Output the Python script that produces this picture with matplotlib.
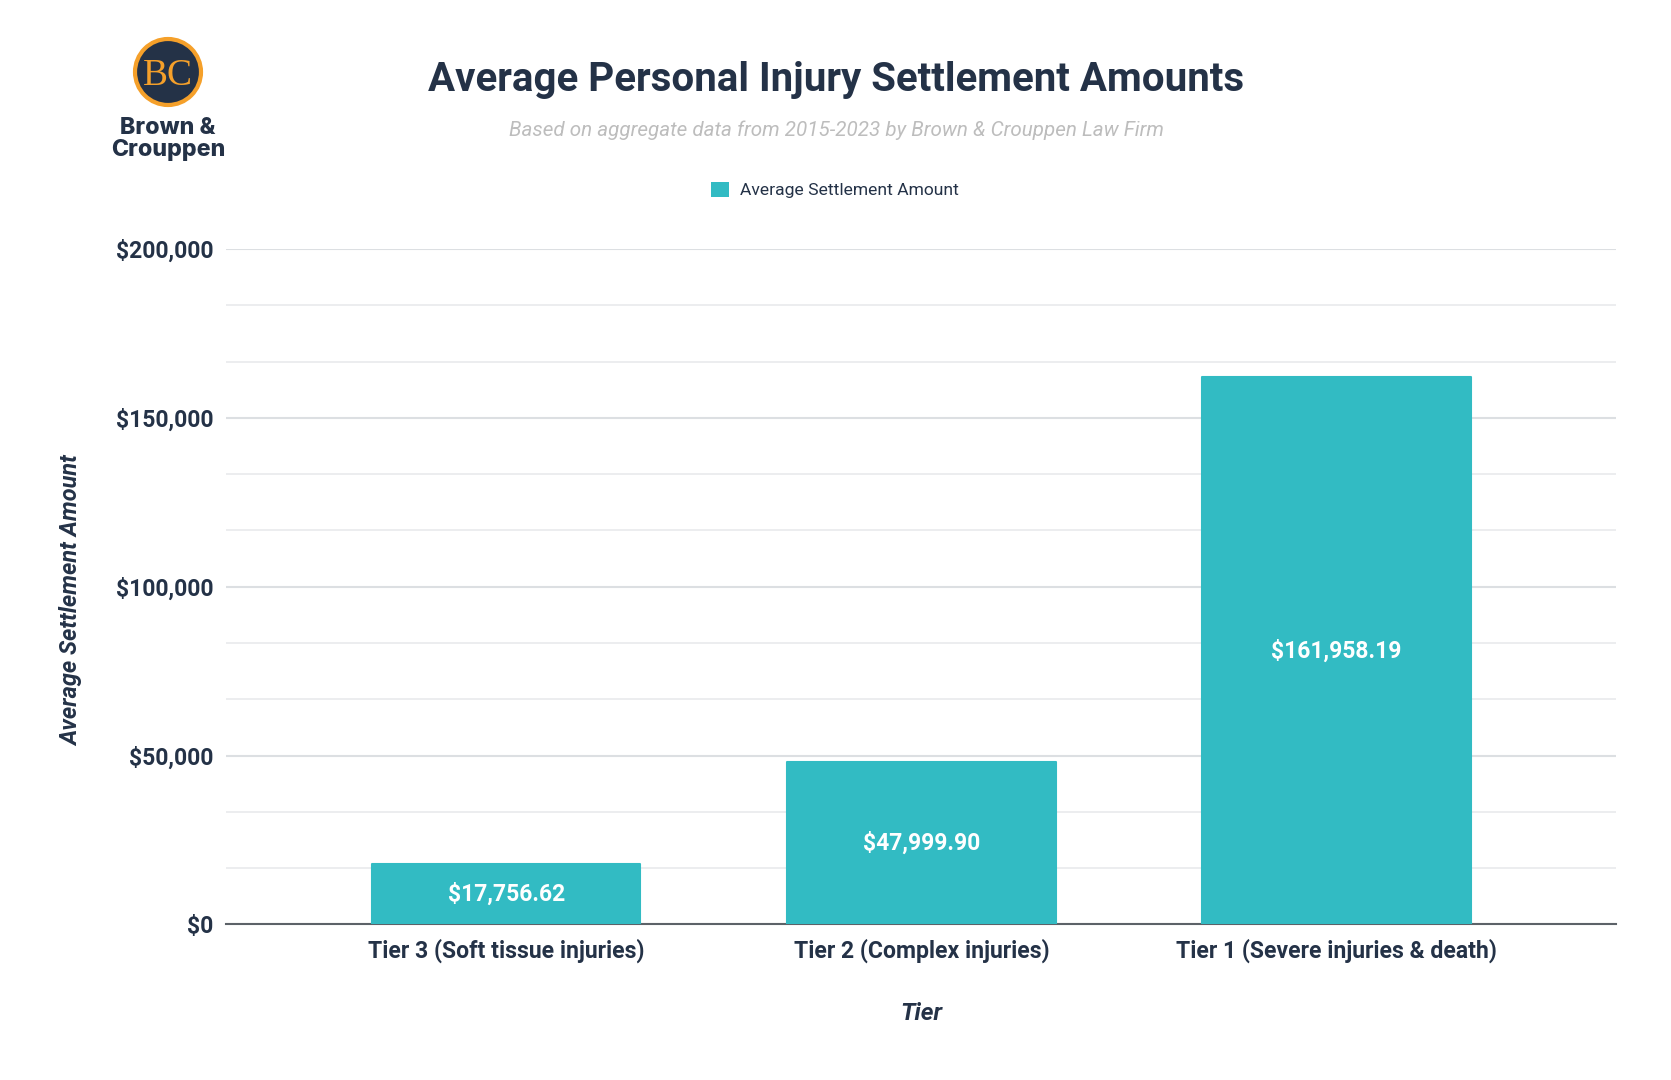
import matplotlib
matplotlib.use('Agg')
import matplotlib.pyplot as plt
from matplotlib.patches import Circle

plt.rcParams['font.family'] = ['Roboto', 'DejaVu Sans']

tiers = ['Tier 3 (Soft tissue injuries)', 'Tier 2 (Complex injuries)', 'Tier 1 (Severe injuries & death)']
amounts = [17756.62, 47999.90, 161958.19]
amount_labels = ['$17,756.62', '$47,999.90', '$161,958.19']
major_ticks = [0, 50000, 100000, 150000, 200000]
major_labels = ['$0', '$50,000', '$100,000', '$150,000', '$200,000']
minor_ticks = [16667, 33333, 66667, 83333, 116667, 133333, 166667, 183333]

navy = '#243247'
teal = '#32bbc3'
orange = '#f5a02a'
W, H = 1671, 1080

fig = plt.figure(figsize=(W / 100, H / 100), dpi=100, facecolor='white')
ax = fig.add_axes([226 / W, 1 - 924.4 / H, (1616.4 - 226) / W, (924.4 - 249) / H])

# Bars first, the axis line sits behind them
x = list(range(len(tiers)))
ax.bar(x, amounts, width=0.646, color=teal, edgecolor=teal, linewidth=1.5,
       joinstyle='round', zorder=3)
for i, amount in enumerate(amounts):
    ax.text(i, amount / 2, amount_labels[i], color='white', fontsize=16.5, fontweight='bold',
            ha='center', va='center', zorder=4)

ax.set_xlim(-0.675, 2.674)
ax.set_ylim(0, 200000)
ax.set_xticks(x)
ax.set_xticklabels(tiers, fontsize=16.6, fontweight='semibold', color=navy)
ax.set_yticks(major_ticks)
ax.set_yticklabels(major_labels, fontsize=16.5, fontweight='semibold', color=navy)
ax.set_yticks(minor_ticks, minor=True)
ax.tick_params(axis='both', which='both', length=0)
ax.tick_params(axis='x', pad=10.5)
ax.tick_params(axis='y', pad=9)
ax.grid(axis='y', which='major', color='#dcdfe2', linewidth=1.5, zorder=1)
ax.grid(axis='y', which='minor', color='#eaecee', linewidth=1.3, zorder=1)
ax.set_axisbelow(True)
for side in ['top', 'right', 'left']:
    ax.spines[side].set_visible(False)
ax.spines['bottom'].set_color('#5c6268')
ax.spines['bottom'].set_linewidth(1.5)
ax.spines['bottom'].set_zorder(2)

ax.set_xlabel('Tier', fontsize=17.5, fontweight='semibold', style='italic', color=navy, labelpad=27.5)
fig.text(71.3 / W, 1 - 601 / H, 'Average Settlement Amount', rotation=90, fontsize=16.9,
         fontweight='semibold', style='italic', color=navy, ha='center', va='center')

# Titles
fig.text(835.7 / W, 1 - 80 / H, 'Average Personal Injury Settlement Amounts', fontsize=28.95,
         fontweight='bold', color=navy, ha='center', va='center')
fig.text(836.5 / W, 1 - 130.5 / H, 'Based on aggregate data from 2015-2023 by Brown & Crouppen Law Firm',
         fontsize=14.85, style='italic', color='#bdbdbd', ha='center', va='center')

# Legend
leg = ax.bar([0], [0], color=teal, label='Average Settlement Amount')
handles, labels = [leg], ['Average Settlement Amount']
fig.legend(handles, labels, loc='center', bbox_to_anchor=(835.2 / W, 1 - 190 / H), frameon=False,
           fontsize=12.6, labelcolor=navy, handlelength=1, handleheight=1, handletextpad=0.65)

# Logo
logo = fig.add_axes([0, 0, 1, 1], facecolor='none')
logo.set_xlim(0, W)
logo.set_ylim(H, 0)
logo.axis('off')
logo.add_patch(Circle((168, 72), 33, facecolor=navy, edgecolor=orange, linewidth=3))
logo.text(168, 76, 'BC', family='Liberation Serif', fontsize=27, color=orange, ha='center', va='center')
logo.text(168, 128.5, 'Brown &', family='Inter', fontsize=16.7, fontweight=800, color=navy, ha='center', va='center')
logo.text(168, 150, 'Crouppen', family='Inter', fontsize=16.7, fontweight=800, color=navy, ha='center', va='center')

fig.savefig('out.png', dpi=100)
